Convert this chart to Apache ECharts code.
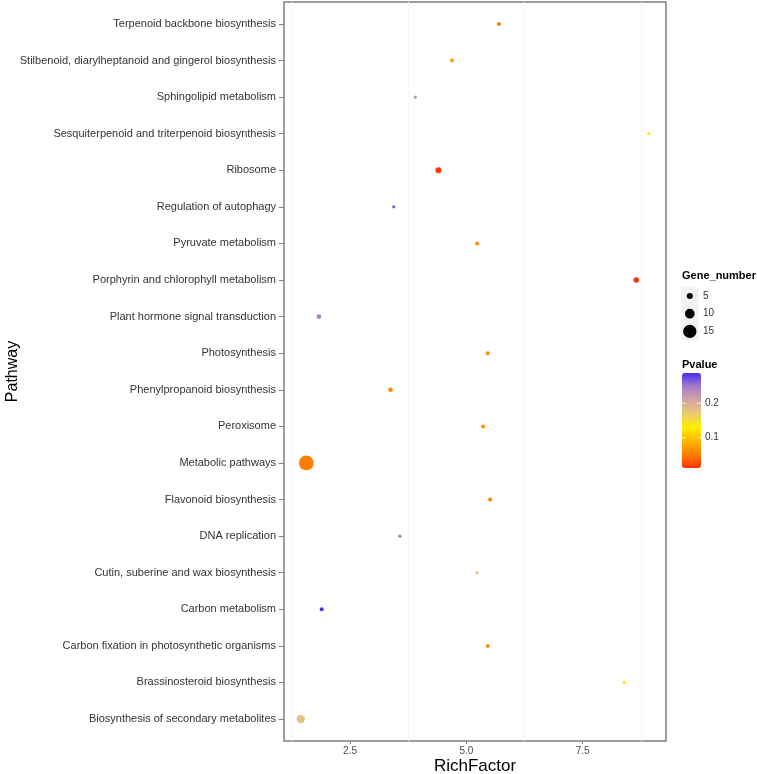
<!DOCTYPE html>
<html>
<head>
<meta charset="utf-8">
<script src="https://cdn.jsdelivr.net/npm/echarts@6/dist/echarts.min.js"></script>
<style>
html,body{margin:0;padding:0;background:#fff;}
#chart{width:757px;height:774px;}
</style>
</head>
<body>
<div id="chart"></div>
<script>
// Pathways, bottom (index 0) to top
const categories = [
  "Biosynthesis of secondary metabolites",
  "Brassinosteroid biosynthesis",
  "Carbon fixation in photosynthetic organisms",
  "Carbon metabolism",
  "Cutin, suberine and wax biosynthesis",
  "DNA replication",
  "Flavonoid biosynthesis",
  "Metabolic pathways",
  "Peroxisome",
  "Phenylpropanoid biosynthesis",
  "Photosynthesis",
  "Plant hormone signal transduction",
  "Porphyrin and chlorophyll metabolism",
  "Pyruvate metabolism",
  "Regulation of autophagy",
  "Ribosome",
  "Sesquiterpenoid and triterpenoid biosynthesis",
  "Sphingolipid metabolism",
  "Stilbenoid, diarylheptanoid and gingerol biosynthesis",
  "Terpenoid backbone biosynthesis"
];
const richFactor = [1.44, 8.39, 5.46, 1.89, 5.23, 3.57, 5.51, 1.56, 5.36, 3.37,
                    5.46, 1.83, 8.65, 5.23, 3.44, 4.40, 8.92, 3.90, 4.69, 5.70];
const geneNumber = [8, 1, 2, 2, 1, 1, 2, 17, 2, 3,
                    2, 3, 4, 2, 1, 5, 1, 1, 2, 2];
const pValue = [0.180, 0.120, 0.055, 0.288, 0.170, 0.250, 0.055, 0.051, 0.060, 0.060,
                0.060, 0.245, 0.012, 0.060, 0.265, 0.015, 0.125, 0.230, 0.075, 0.050];
const xTicks = [2.5, 5.0, 7.5];
const minorGridX = [1.25, 3.75, 6.25, 8.75];
const sizeBreaks = [5, 10, 15];
const pBreaks = [0.2, 0.1];
const pMin = 0.012, pMax = 0.288;
const xMin = 1.08, xMax = 9.29;

function sizeOf(n) { return 2.5 + 0.72 * n; }

const data = categories.map((c, i) => [richFactor[i], i, pValue[i], geneNumber[i]]);
const yIdx = categories.map((c, i) => i);

const chart = echarts.init(document.getElementById('chart'), null, {renderer: 'canvas'});

// legend geometry
const barLeft = 682, barTop = 373, barW = 19, barH = 95;
function barY(p) { return barTop + (pMax - p) / (pMax - pMin) * barH; }

const graphics = [];
graphics.push({type: 'text', left: 682, top: 270, style: {text: 'Gene_number', fontSize: 11, fontWeight: 'bold', fill: '#000', fontFamily: 'Liberation Sans'}});
sizeBreaks.forEach((s, k) => {
  const cy = 296 + k * 17.7;
  graphics.push({type: 'rect', shape: {x: 681, y: cy - 8.8, width: 17.7, height: 17.7}, style: {fill: '#F2F2F2'}});
  graphics.push({type: 'circle', shape: {cx: 689.8, cy: cy, r: sizeOf(s) / 2}, style: {fill: '#000'}});
  graphics.push({type: 'text', x: 703, y: cy, style: {text: String(s), fontSize: 10, fill: '#333', fontFamily: 'Liberation Sans', verticalAlign: 'middle'}});
});
graphics.push({type: 'text', left: 682, top: 359, style: {text: 'Pvalue', fontSize: 11, fontWeight: 'bold', fill: '#000', fontFamily: 'Liberation Sans'}});
pBreaks.forEach(p => {
  const y = barY(p);
  graphics.push({type: 'line', z: 100, shape: {x1: barLeft, y1: y, x2: barLeft + 4, y2: y}, style: {stroke: 'rgba(255,255,255,0.8)', lineWidth: 1}});
  graphics.push({type: 'line', z: 100, shape: {x1: barLeft + barW - 4, y1: y, x2: barLeft + barW, y2: y}, style: {stroke: 'rgba(255,255,255,0.8)', lineWidth: 1}});
  graphics.push({type: 'text', x: 705, y: y, style: {text: p.toFixed(1), fontSize: 10, fill: '#333', fontFamily: 'Liberation Sans', verticalAlign: 'middle'}});
});

const option = {
  animation: false,
  backgroundColor: '#fff',
  textStyle: {fontFamily: 'Liberation Sans'},
  grid: {left: 284, right: 91, top: 2, bottom: 33, show: true, borderColor: '#7f7f7f', borderWidth: 1.5,
         backgroundColor: 'transparent', containLabel: false, outerBoundsMode: 'none'},
  xAxis: {
    type: 'value', min: xMin, max: xMax,
    name: 'RichFactor', nameLocation: 'middle', nameGap: 17, nameMoveOverlap: false,
    nameTextStyle: {fontSize: 17, color: '#000'},
    axisLine: {show: false, onZero: false},
    axisTick: {show: true, length: 3, lineStyle: {color: '#7f7f7f'}, customValues: xTicks},
    axisLabel: {customValues: xTicks, formatter: v => Number(v).toFixed(1), fontSize: 10, color: '#4d4d4d', margin: 5},
    splitLine: {show: false}
  },
  yAxis: {
    type: 'value', min: -0.6, max: categories.length - 1 + 0.6,
    name: 'Pathway', nameLocation: 'middle', nameGap: 263, nameRotate: 90, nameMoveOverlap: false,
    nameTextStyle: {fontSize: 16, color: '#000'},
    axisLine: {show: false, onZero: false},
    axisTick: {show: true, length: 5, lineStyle: {color: '#7f7f7f'}, customValues: yIdx},
    axisLabel: {customValues: yIdx, formatter: v => categories[Math.round(v)] || '', fontSize: 11, color: '#333', margin: 8},
    splitLine: {show: false}
  },
  visualMap: {
    type: 'continuous', dimension: 2, seriesIndex: 0,
    min: pMin, max: pMax, calculable: false, realtime: false,
    left: barLeft, top: barTop, itemWidth: barW, itemHeight: barH, padding: 0,
    text: null, showLabel: false,
    inRange: {color: ['#FF3300', '#FF7F00', '#FFB800', '#FFF000', '#EBCB70', '#D4A5A8', '#A57EC5', '#4B2BF5']}
  },
  graphic: graphics,
  series: [{
    type: 'scatter',
    data: data,
    symbolSize: d => sizeOf(d[3]),
    itemStyle: {opacity: 1},
    markLine: {
      silent: true, symbol: 'none', animation: false,
      label: {show: false},
      lineStyle: {color: '#F6F6F6', type: 'solid', width: 1},
      data: minorGridX.map(v => ({xAxis: v}))
    }
  }]
};
chart.setOption(option);
</script>
</body>
</html>
